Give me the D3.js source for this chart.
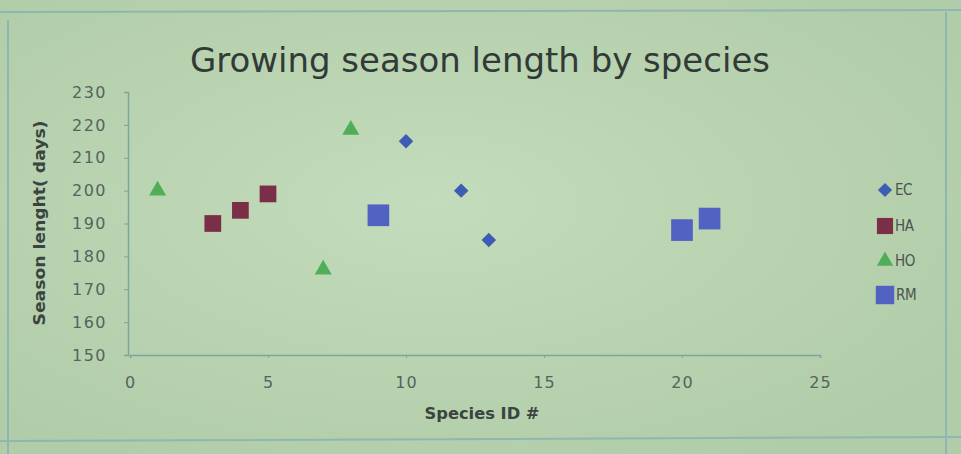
<!DOCTYPE html>
<html>
<head>
<meta charset="utf-8">
<script src="https://cdn.jsdelivr.net/npm/d3@7"></script>
<style>
  html, body { margin: 0; padding: 0; background: #b8d2b1; overflow: hidden; }
</style>
</head>
<body>
<script>
// data
var seriesNames = ["EC", "HA", "HO", "RM"];
var ecX = [10, 12, 13],      ecY = [215, 200, 185];
var haX = [3, 4, 5],         haY = [190, 194, 199];
var hoX = [1, 7, 8],         hoY = [200, 176, 218.5];
var rmX = [9, 20, 21],       rmY = [192.5, 188, 191.5];
var xTicks = [0, 5, 10, 15, 20, 25];
var yTicks = [150, 160, 170, 180, 190, 200, 210, 220, 230];

var width = 961, height = 454;

var svg = d3.select("body").append("svg")
    .attr("width", width)
    .attr("height", height);

// projector glow
var defs = svg.append("defs");
var grad = defs.append("radialGradient").attr("id", "glow")
    .attr("cx", "45%").attr("cy", "45%").attr("r", "65%");
grad.append("stop").attr("offset", "0%").attr("stop-color", "#c3dcbb");
grad.append("stop").attr("offset", "100%").attr("stop-color", "#b1cca9");
svg.append("rect").attr("width", width).attr("height", height).attr("fill", "url(#glow)");

// slide frame
svg.append("path")
    .attr("d", "M0,12 L961,10 M8,20 L8,454 M946,12 L946,454 M0,441 L961,437")
    .attr("fill", "none")
    .attr("stroke", "#8fb6b0")
    .attr("stroke-width", 2);

var x = d3.scaleLinear().domain([0, 25]).range([130, 820]);
var y = d3.scaleLinear().domain([150, 230]).range([355, 92]);

svg.append("text")
    .attr("x", 480).attr("y", 72)
    .attr("text-anchor", "middle")
    .attr("font-family", "DejaVu Sans Condensed, DejaVu Sans")
    .attr("font-size", 34)
    .attr("textLength", 580)
    .attr("lengthAdjust", "spacingAndGlyphs")
    .attr("fill", "#323a37")
    .text("Growing season length by species");

var axisColor = "#7ea3a0";
var tickColor = "#55635d";

var yAxis = svg.append("g")
    .attr("transform", "translate(128,0)")
    .call(d3.axisLeft(y).tickValues(yTicks).tickSize(4).tickPadding(17));
yAxis.select(".domain").attr("stroke", axisColor).attr("stroke-width", 1.5);
yAxis.selectAll(".tick line").attr("stroke", axisColor);
yAxis.selectAll("text")
    .attr("font-family", "DejaVu Sans")
    .attr("font-size", 16)
    .attr("letter-spacing", 1.5)
    .attr("fill", tickColor);

var xAxis = svg.append("g")
    .attr("transform", "translate(0,355)")
    .call(d3.axisBottom(x).tickValues(xTicks).tickSize(3).tickPadding(19));
xAxis.select(".domain").attr("stroke", axisColor).attr("stroke-width", 1.5);
xAxis.selectAll(".tick line").attr("stroke", axisColor);
xAxis.selectAll("text")
    .attr("font-family", "DejaVu Sans")
    .attr("font-size", 16)
    .attr("letter-spacing", 1)
    .attr("fill", tickColor);

svg.append("text")
    .attr("transform", "translate(45,223) rotate(-90)")
    .attr("text-anchor", "middle")
    .attr("font-family", "DejaVu Sans Condensed, DejaVu Sans")
    .attr("font-weight", "bold")
    .attr("font-size", 15)
    .attr("textLength", 205)
    .attr("lengthAdjust", "spacingAndGlyphs")
    .attr("fill", "#3a4440")
    .text("Season lenght( days)");

svg.append("text")
    .attr("x", 482).attr("y", 419)
    .attr("text-anchor", "middle")
    .attr("font-family", "DejaVu Sans Condensed, DejaVu Sans")
    .attr("font-weight", "bold")
    .attr("font-size", 15)
    .attr("textLength", 115)
    .attr("lengthAdjust", "spacingAndGlyphs")
    .attr("fill", "#3a4440")
    .text("Species ID #");

var series = [
  {name: seriesNames[0], xs: ecX, ys: ecY, color: "#3c5db3", shape: d3.symbolSquare, size: 105, lsize: 100, rot: 45},
  {name: seriesNames[1], xs: haX, ys: haY, color: "#7b2f47", shape: d3.symbolSquare, size: 280, lsize: 260, rot: 0},
  {name: seriesNames[2], xs: hoX, ys: hoY, color: "#4fae57", shape: d3.symbolTriangle, size: 125, lsize: 115, rot: 0},
  {name: seriesNames[3], xs: rmX, ys: rmY, color: "#5262c2", shape: d3.symbolSquare, size: 470, lsize: 340, rot: 0}
];

series.forEach(function(s) {
  var pts = s.xs.map(function(v, i) { return [v, s.ys[i]]; });
  svg.append("g").selectAll("path")
      .data(pts)
      .enter().append("path")
      .attr("d", d3.symbol().type(s.shape).size(s.size))
      .attr("transform", function(d) {
        return "translate(" + x(d[0]) + "," + y(d[1]) + ") rotate(" + s.rot + ")";
      })
      .attr("fill", s.color);
});

// legend
var legendY = [190, 226, 261, 295];
var legend = svg.append("g").attr("transform", "translate(885,0)");
var li = legend.selectAll("g")
    .data(series)
    .enter().append("g")
    .attr("transform", function(d, i) { return "translate(0," + legendY[i] + ")"; });
li.append("path")
    .attr("d", function(d) { return d3.symbol().type(d.shape).size(d.lsize)(); })
    .attr("transform", function(d) { return "rotate(" + d.rot + ")"; })
    .attr("fill", function(d) { return d.color; });
li.append("text")
    .attr("x", function(d) { return d.name == "RM" ? 11 : 10; })
    .attr("y", 5)
    .attr("font-family", "DejaVu Sans Condensed, DejaVu Sans")
    .attr("font-size", 15)
    .attr("letter-spacing", -0.5)
    .attr("fill", "#4a5550")
    .text(function(d) { return d.name; });
</script>
</body>
</html>
